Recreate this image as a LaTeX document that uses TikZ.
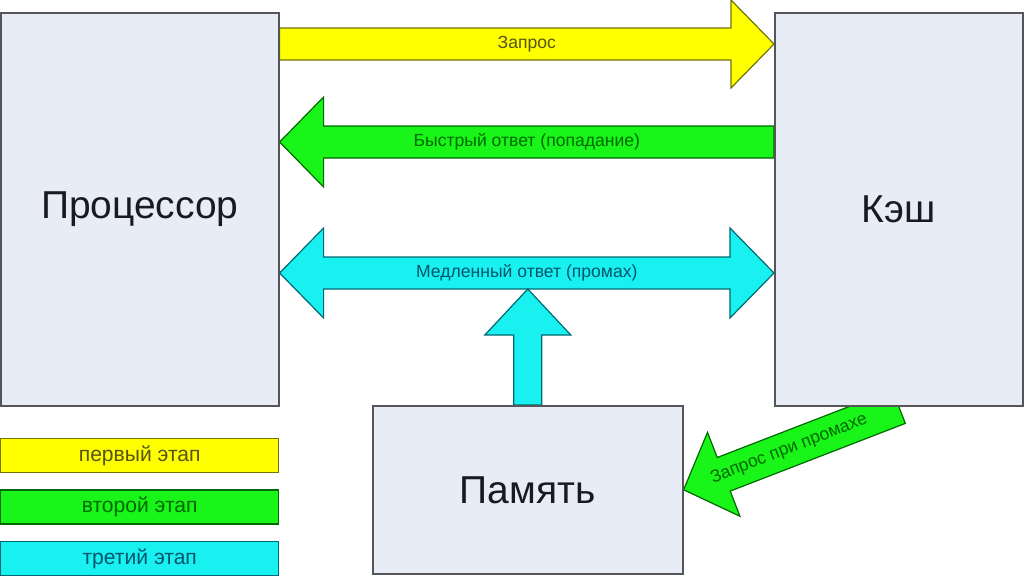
\documentclass[tikz,border=0pt]{standalone}
\usepackage{fontspec}
\setmainfont{Liberation Sans}
\usetikzlibrary{calc}
\usetikzlibrary{positioning}
\usetikzlibrary{backgrounds}

\definecolor{boxfill}{RGB}{232,236,246}
\definecolor{boxline}{RGB}{85,85,90}
\definecolor{boxtext}{RGB}{25,25,35}
\definecolor{ylw}{RGB}{255,255,0}
\definecolor{ylwline}{RGB}{115,115,10}
\definecolor{ylwtext}{RGB}{85,85,20}
\definecolor{grn}{RGB}{25,245,25}
\definecolor{grnline}{RGB}{0,105,0}
\definecolor{grntext}{RGB}{0,105,0}
\definecolor{cyn}{RGB}{25,240,240}
\definecolor{cynline}{RGB}{0,105,115}
\definecolor{cyntext}{RGB}{0,85,110}

\begin{document}
\begin{tikzpicture}[
    x=0.25mm, y=-0.25mm,
    unit/.style={draw=boxline, fill=boxfill, line width=0.4mm, inner sep=0pt,
        text=boxtext, anchor=north west, font=\fontsize{27.7}{32}\selectfont},
    stage/.style={line width=0.35mm, minimum width=69.5mm, minimum height=8.5mm,
        inner sep=0pt, font=\fontsize{15}{17}\selectfont},
    first arrow/.style={draw=ylwline, fill=ylw, line width=0.3mm},
    second arrow/.style={draw=grnline, fill=grn, line width=0.3mm},
    third arrow/.style={draw=cynline, fill=cyn, line width=0.3mm},
    arrow text/.style={inner sep=1pt, font=\fontsize{12.5}{14}\selectfont},
    node distance=4mm
    ]
   \useasboundingbox (0,0) rectangle (1024,576);
   % units
   \node[unit, minimum width=69.5mm, minimum height=98.25mm] (cpu) at (0,12) {Процессор};
   \node[unit, minimum width=62mm, minimum height=98.25mm] (cache) at (774,12) {Кэш};
   \node[unit, minimum width=77.5mm, minimum height=42mm] (mem) at (372,405) {Память};
   % legend
   \node[stage, anchor=north west, fill=ylw, draw=ylwline, text=ylwtext] (stage1) at (0,438) {первый этап};
   \node[stage, below=of stage1, fill=grn, draw=grnline, text=grntext] (stage2) {второй этап};
   \node[stage, below=of stage2, fill=cyn, draw=cynline, text=cyntext] (stage3) {третий этап};
   % arrow ends
   \coordinate (req a) at (cpu.east |- 0,44);
   \coordinate (req b) at (cache.west |- 0,44);
   \coordinate (hit a) at (cache.west |- 0,142);
   \coordinate (hit b) at (cpu.east |- 0,142);
   \coordinate (miss a) at (cpu.east |- 0,273);
   \coordinate (miss b) at (cache.west |- 0,273);
   \coordinate (load b) at (mem.north |- 0,289);
   \coordinate (fetch h) at ($(mem.east)!10.75mm!(cache.south)$);
   \begin{pgfonlayer}{background}
   % request
   \draw[first arrow] ($(req a)+(0,-16)$) -- ($(req b)+(-43,-16)$) -- ($(req b)+(-43,-44)$) -- (req b)
       -- ($(req b)+(-43,44)$) -- ($(req b)+(-43,16)$) -- ($(req a)+(0,16)$) -- cycle;
   % hit
   \draw[second arrow] ($(hit a)+(0,-16)$) -- ($(hit b)+(44,-16)$) -- ($(hit b)+(44,-45)$) -- (hit b)
       -- ($(hit b)+(44,45)$) -- ($(hit b)+(44,16)$) -- ($(hit a)+(0,16)$) -- cycle;
   % miss
   \draw[third arrow] (miss a) -- ($(miss a)+(44,-45)$) -- ($(miss a)+(44,-16)$) -- ($(miss b)+(-44,-16)$)
       -- ($(miss b)+(-44,-45)$) -- (miss b) -- ($(miss b)+(-44,45)$) -- ($(miss b)+(-44,16)$)
       -- ($(miss a)+(44,16)$) -- ($(miss a)+(44,45)$) -- cycle;
   \draw[third arrow] ($(mem.north)+(-14,0)$) -- ($(load b)+(-14,46)$) -- ($(load b)+(-43,46)$) -- (load b)
       -- ($(load b)+(43,46)$) -- ($(load b)+(14,46)$) -- ($(mem.north)+(14,0)$) -- cycle;
   % fetch from memory
   \draw[second arrow] (mem.east) -- ($(fetch h)!11.25mm!90:(cache.south)$) -- ($(fetch h)!4.5mm!90:(cache.south)$)
       -- ($(cache.south)!4.5mm!-90:(mem.east)$) -- ($(cache.south)!4.5mm!90:(mem.east)$)
       -- ($(fetch h)!4.5mm!-90:(cache.south)$) -- ($(fetch h)!11.25mm!-90:(cache.south)$) -- cycle;
   \end{pgfonlayer}
   % arrow labels
   \node[arrow text, text=ylwtext] (req) at ($(req a)!0.5!(req b)$) {Запрос};
   \node[arrow text, text=grntext] (hit) at ($(hit a)!0.5!(hit b)$) {Быстрый ответ (попадание)};
   \node[arrow text, text=cyntext] (miss) at ($(miss a)!0.5!(miss b)$) {Медленный ответ (промах)};
   \path (mem.east) -- (cache.south) node[arrow text, text=grntext, pos=0.49, sloped] (fetch) {Запрос при промахе};
\end{tikzpicture}
\end{document}
